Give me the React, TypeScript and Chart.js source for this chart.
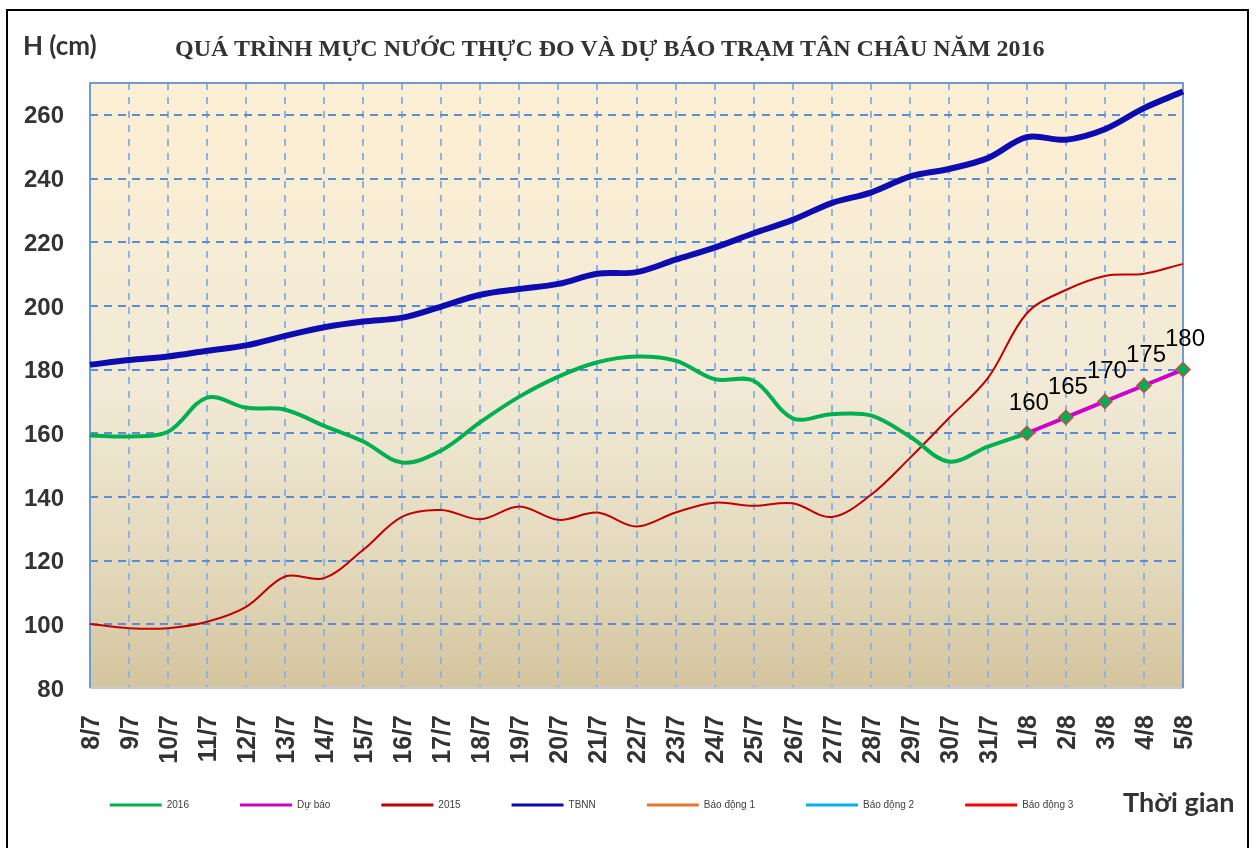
import React, { useEffect, useRef } from 'react';
import { Chart, registerables } from 'chart.js';

Chart.register(...registerables);

const categories = ['8/7','9/7','10/7','11/7','12/7','13/7','14/7','15/7','16/7','17/7','18/7','19/7','20/7','21/7','22/7','23/7','24/7','25/7','26/7','27/7','28/7','29/7','30/7','31/7','1/8','2/8','3/8','4/8','5/8'];

const h2016: (number | null)[] = [159.3,159,160.5,171.2,168,167.4,162.3,157.4,150.8,154.6,163.5,171.5,177.8,182.3,184.1,182.8,177,176.5,164.7,166,165.6,159,151.1,155.8,160,null,null,null,null];

const forecast: (number | null)[] = [null,null,null,null,null,null,null,null,null,null,null,null,null,null,null,null,null,null,null,null,null,null,null,null,160,165,170,175,180];

const h2015: (number | null)[] = [100.1,98.8,98.8,100.8,105.5,115,114.5,123.4,133.8,135.9,133,137,132.8,135.1,130.7,135.1,138.2,137.2,138,133.7,140.6,152.2,164.7,177.3,197.7,205,209.4,210.1,213.2];

const tbnn: (number | null)[] = [181.5,183,184.1,185.9,187.6,190.6,193.3,195.1,196.3,199.8,203.5,205.3,206.9,210.1,210.6,214.5,218.3,222.8,227,232.3,235.6,240.6,243,246.4,253,252.2,255.5,262.1,267.3];

const alarm1: (number | null)[] = [];
const alarm2: (number | null)[] = [];
const alarm3: (number | null)[] = [];

const yTicks = [80, 100, 120, 140, 160, 180, 200, 220, 240, 260];

const W = 1257;
const H = 848;

export default function App() {
  const ref = useRef<HTMLCanvasElement>(null);

  useEffect(() => {
    if (!ref.current) return;

    const plotPlugin = {
      id: 'plotDecor',
      afterLayout(chart: any) {
        const lg = chart.legend;
        if (lg) {
          const h = lg.bottom - lg.top;
          lg.top = 749;
          lg.bottom = 749 + h;
        }
      },
      beforeDraw(chart: any) {
        const { ctx, chartArea: a } = chart;
        const g = ctx.createLinearGradient(0, a.top, 0, a.bottom);
        g.addColorStop(0, 'rgb(253,239,211)');
        g.addColorStop(0.5, 'rgb(242,234,214)');
        g.addColorStop(0.8, 'rgb(227,216,187)');
        g.addColorStop(1, 'rgb(212,197,158)');
        ctx.save();
        ctx.fillStyle = g;
        ctx.fillRect(a.left, a.top, a.right - a.left, a.bottom - a.top);
        ctx.restore();
      },
      beforeDatasetsDraw(chart: any) {
        const { ctx, chartArea: a } = chart;
        ctx.save();
        ctx.setLineDash([]);
        ctx.lineWidth = 2;
        ctx.strokeStyle = '#C3CAD3';
        ctx.beginPath();
        ctx.moveTo(a.left, a.bottom);
        ctx.lineTo(a.right, a.bottom);
        ctx.stroke();
        ctx.strokeStyle = '#6F9AD3';
        ctx.beginPath();
        ctx.moveTo(a.left, a.bottom);
        ctx.lineTo(a.left, a.top);
        ctx.lineTo(a.right, a.top);
        ctx.lineTo(a.right, a.bottom);
        ctx.stroke();
        ctx.restore();
      },
      afterDatasetsDraw(chart: any) {
        const { ctx } = chart;
        const idx = chart.data.datasets.findIndex((d: any) => d.label === 'Dự báo');
        const meta = chart.getDatasetMeta(idx);
        ctx.save();
        ctx.font = '24px "Liberation Sans", Arial, sans-serif';
        ctx.fillStyle = '#000';
        ctx.textAlign = 'center';
        ctx.textBaseline = 'middle';
        meta.data.forEach((pt: any, i: number) => {
          const v = forecast[i];
          if (v === null || v === undefined) return;
          ctx.fillText(String(v), pt.x + 2, pt.y - 30);
        });
        ctx.restore();
      },
    };

    const chart = new Chart(ref.current, {
      type: 'line',
      data: {
        labels: categories,
        datasets: [
          { label: '2016', data: h2016, borderColor: '#00B050', backgroundColor: '#00B050', borderWidth: 4, pointRadius: 0, tension: 0.35, order: 1 },
          { label: 'Dự báo', data: forecast, borderColor: '#CC00CC', backgroundColor: '#CC00CC', borderWidth: 4, pointStyle: 'rectRot', pointRadius: 7, pointBackgroundColor: '#00B050', pointBorderColor: '#C0504D', pointBorderWidth: 1.5, tension: 0, order: 0 },
          { label: '2015', data: h2015, borderColor: '#C00000', backgroundColor: '#C00000', borderWidth: 2, pointRadius: 0, tension: 0.35, order: 1 },
          { label: 'TBNN', data: tbnn, borderColor: '#0C0CB0', backgroundColor: '#0C0CB0', borderWidth: 6, pointRadius: 0, tension: 0.35, order: 1 },
          { label: 'Báo động 1', data: alarm1, borderColor: '#E8762B', backgroundColor: '#E8762B', borderWidth: 3, pointRadius: 0, order: 1 },
          { label: 'Báo động 2', data: alarm2, borderColor: '#00B0F0', backgroundColor: '#00B0F0', borderWidth: 3, pointRadius: 0, order: 1 },
          { label: 'Báo động 3', data: alarm3, borderColor: '#FF0000', backgroundColor: '#FF0000', borderWidth: 3, pointRadius: 0, order: 1 },
        ],
      },
      options: {
        responsive: false,
        animation: false,
        layout: { padding: { top: 83, right: 74, bottom: 9, left: 0 } },
        plugins: {
          tooltip: { enabled: false },
          title: { display: false },
          legend: {
            display: true,
            position: 'bottom',
            labels: {
              boxWidth: 52,
              boxHeight: 3,
              padding: 51,
              color: '#404040',
              font: { size: 10, family: '"Liberation Sans", Arial, sans-serif' },
              generateLabels: (c: any) =>
                c.data.datasets.map((ds: any, i: number) => ({
                  text: ds.label,
                  fillStyle: ds.borderColor,
                  strokeStyle: ds.borderColor,
                  lineWidth: 0,
                  hidden: false,
                  datasetIndex: i,
                  fontColor: '#404040',
                })),
            },
          },
        },
        scales: {
          x: {
            type: 'category',
            offset: false,
            afterFit: (s: any) => { s.height = 80; },
            grid: { color: '#8DB4E2', lineWidth: 2, drawTicks: false },
            border: { display: false, dash: [7, 7] },
            ticks: {
              autoSkip: false,
              minRotation: 90,
              maxRotation: 90,
              padding: 27,
              labelOffset: 2,
              color: '#333333',
              font: { size: 25, weight: 'bold', family: '"Liberation Sans", Arial, sans-serif' },
            },
          },
          y: {
            min: 80,
            max: 270,
            afterFit: (s: any) => { s.width = 90; },
            afterBuildTicks: (s: any) => { s.ticks = yTicks.map((v) => ({ value: v })); },
            grid: { color: '#5B8DD6', lineWidth: 2, drawTicks: false },
            border: { display: false, dash: [8, 6] },
            ticks: {
              padding: 26,
              labelOffset: 2,
              color: '#333333',
              font: { size: 24, weight: 'bold', family: '"Liberation Sans", Arial, sans-serif' },
            },
          },
        },
      },
      plugins: [plotPlugin],
    } as any);

    return () => chart.destroy();
  }, []);

  return (
    <div style={{ position: 'fixed', left: 0, top: 0, width: W, height: H, background: '#ffffff', overflow: 'hidden' }}>
      <div style={{ position: 'absolute', left: 6, top: 9, width: 1243, height: 900, border: '2px solid #000', boxSizing: 'border-box' }} />
      <canvas ref={ref} width={W} height={H} style={{ position: 'absolute', left: 0, top: 0, width: W, height: H }} />
      <div style={{ position: 'absolute', left: 23, top: 32, font: 'bold 26px Lato, "Open Sans", sans-serif', lineHeight: '26px', color: '#333', whiteSpace: 'nowrap' }}>H (cm)</div>
      <div style={{ position: 'absolute', left: 175, top: 36, font: 'bold 24px "Liberation Serif", "Times New Roman", serif', lineHeight: '24px', color: '#333', whiteSpace: 'nowrap' }}>QUÁ TRÌNH MỰC NƯỚC THỰC ĐO VÀ DỰ BÁO TRẠM TÂN CHÂU NĂM 2016</div>
      <div style={{ position: 'absolute', left: 1123, top: 788, font: 'bold 27px Lato, "Open Sans", sans-serif', lineHeight: '27px', color: '#333', whiteSpace: 'nowrap' }}>Thời gian</div>
    </div>
  );
}
